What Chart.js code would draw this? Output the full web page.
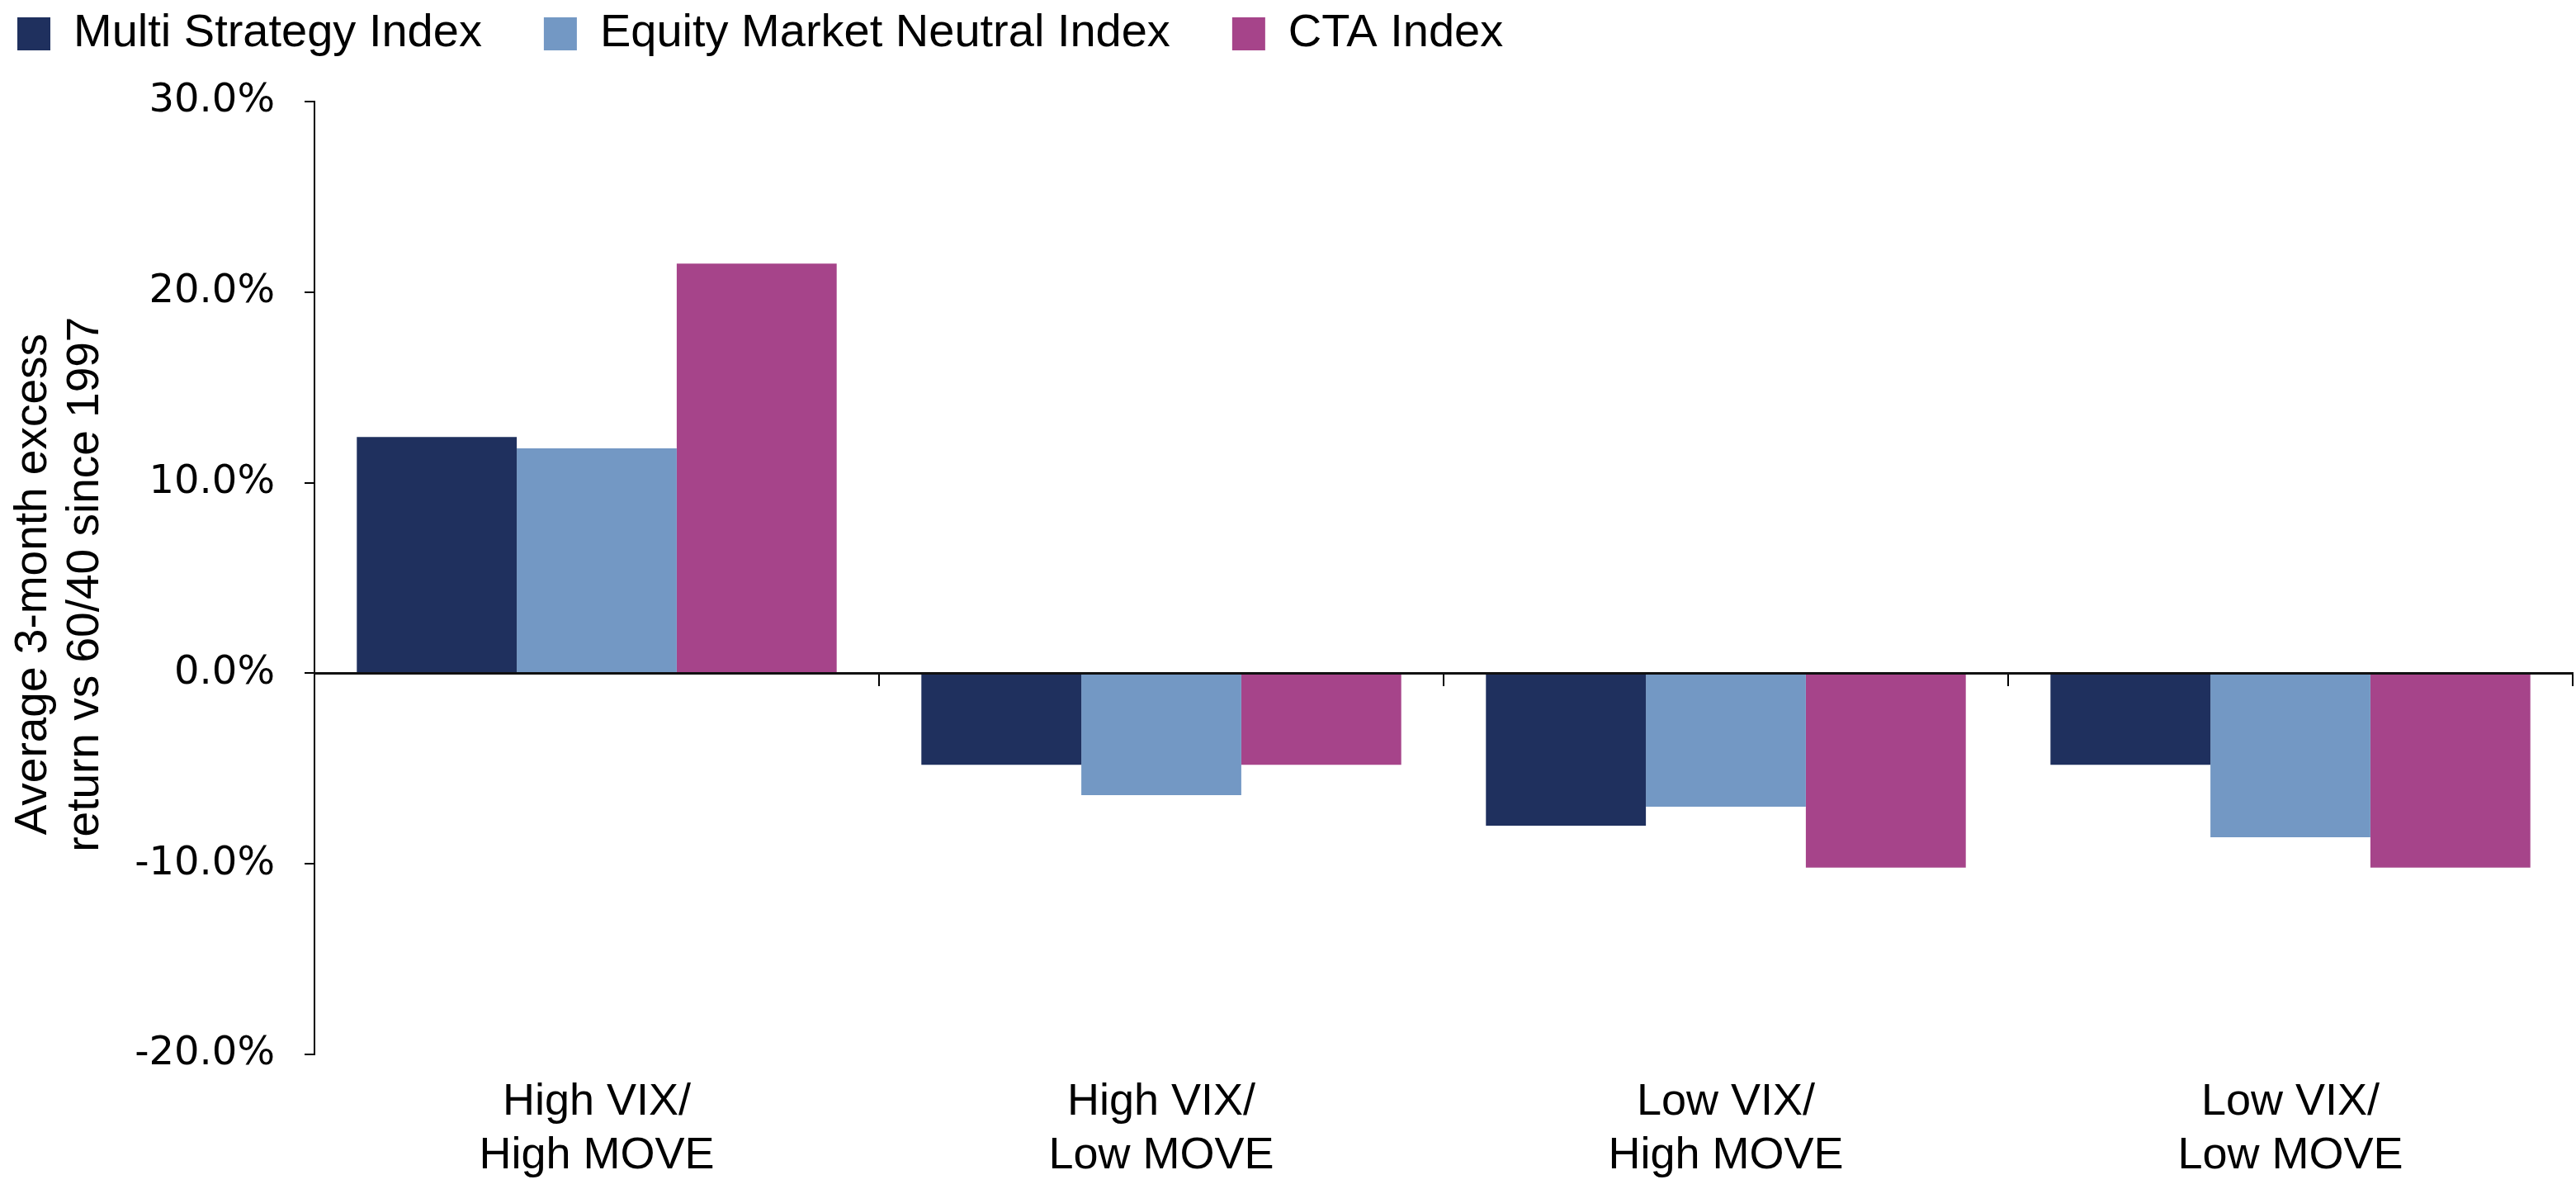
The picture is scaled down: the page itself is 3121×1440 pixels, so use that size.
<!DOCTYPE html>
<html lang="en">
<head>
  <meta charset="UTF-8" />
  <title>Average 3-month excess return vs 60/40</title>
  <script src="https://cdn.jsdelivr.net/npm/chart.js"></script>
  <style>
    html, body {
      margin: 0;
      padding: 0;
      background: #ffffff;
    }
    .wrap {
      width: 3121px;
      height: 1440px;
    }
  </style>
</head>
<body>
  <div class="wrap">
    <canvas id="regimeChart" width="3121" height="1440"></canvas>
  </div>

  <script>
  // categories (two-line labels) and series values, in %
  const categories = [
    ['High VIX/', 'High MOVE'],
    ['High VIX/', 'Low MOVE'],
    ['Low VIX/', 'High MOVE'],
    ['Low VIX/', 'Low MOVE']
  ];
  const multiStrategy = [12.4, -4.8, -8.0, -4.8];
  const equityMarketNeutral = [11.8, -6.4, -7.0, -8.6];
  const ctaIndex = [21.5, -4.8, -10.2, -10.2];
  const yTicks = [-20, -10, 0, 10, 20, 30];
  // trailing space nudges the rotated title slightly below the axis middle
  const yTitle = ['Average 3-month excess ', 'return vs 60/40 since 1997 '];

  const textFont = "'Liberation Sans', Arial, sans-serif";
  const tickFont = "'DejaVu Sans', sans-serif";

  const ctx = document.getElementById('regimeChart').getContext('2d');
  const regimeChart = new Chart(ctx, {
    type: 'bar',
    data: {
      labels: categories,
      datasets: [
        { label: 'Multi Strategy Index', data: multiStrategy, backgroundColor: '#1f305e' },
        { label: 'Equity Market Neutral Index', data: equityMarketNeutral, backgroundColor: '#7398c4' },
        { label: 'CTA Index', data: ctaIndex, backgroundColor: '#a6448a' }
      ]
    },
    options: {
      responsive: false,
      animation: false,
      devicePixelRatio: 1,
      layout: {
        padding: { left: -54, top: -62, right: 4, bottom: 0 }
      },
      datasets: {
        bar: { categoryPercentage: 0.85, barPercentage: 1.0 }
      },
      plugins: {
        legend: {
          position: 'top',
          align: 'start',
          labels: {
            boxWidth: 40,
            boxHeight: 40,
            padding: 75,
            color: '#000',
            font: { family: textFont, size: 56 }
          }
        },
        // empty spacer between the legend and the plot
        subtitle: {
          display: true,
          text: '',
          weight: 500,
          font: { size: 20, lineHeight: 1.2 },
          padding: { top: 10, bottom: 10 }
        },
        tooltip: { enabled: false }
      },
      scales: {
        x: {
          position: 'bottom',
          grid: { display: false, drawTicks: false },
          border: { display: false },
          ticks: {
            padding: 26,
            color: '#000',
            maxRotation: 0,
            autoSkip: false,
            font: { family: textFont, size: 54, lineHeight: 1.2 }
          },
          afterFit: scale => { scale.height = 163; }
        },
        // axis line drawn at zero with tick marks between the groups
        zero: {
          type: 'category',
          axis: 'x',
          position: { y: 0 },
          grid: {
            offset: true,
            drawOnChartArea: false,
            drawTicks: true,
            tickLength: 14,
            color: '#000',
            lineWidth: 2
          },
          border: { display: true, color: '#111', width: 3, z: 1 },
          ticks: { display: false }
        },
        y: {
          min: yTicks[0],
          max: yTicks[yTicks.length - 1],
          ticks: {
            stepSize: 10,
            padding: 36,
            color: '#000',
            font: { family: tickFont, size: 48 },
            callback: v => v.toFixed(1) + '%'
          },
          grid: { drawOnChartArea: false, tickLength: 12, color: '#000', lineWidth: 2 },
          border: { color: '#000', width: 2 },
          title: {
            display: true,
            text: yTitle,
            color: '#000',
            font: { family: textFont, size: 55, lineHeight: 1.15 },
            padding: { top: 63, bottom: 0 }
          },
          afterFit: scale => { scale.width = 435; }
        }
      }
    }
  });
  </script>
</body>
</html>
